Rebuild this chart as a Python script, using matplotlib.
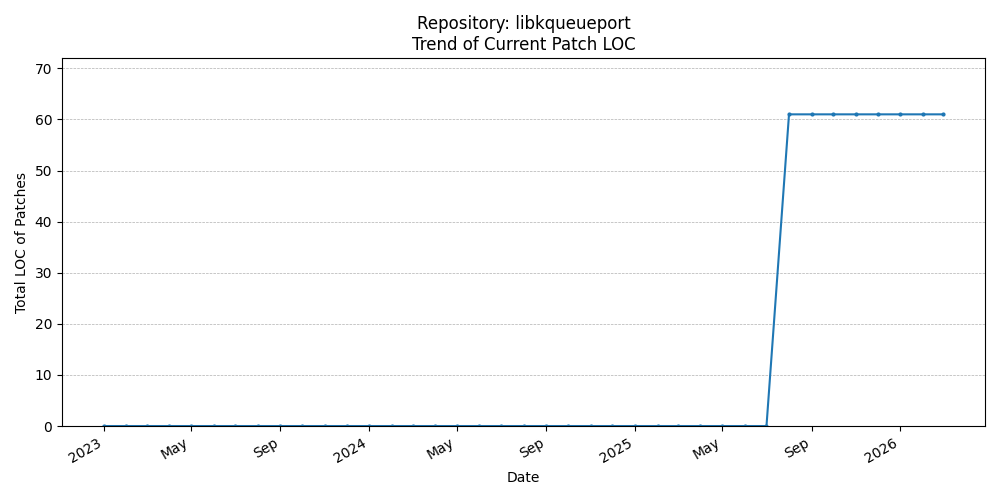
import matplotlib
matplotlib.use("Agg")
import matplotlib.pyplot as plt
import matplotlib.dates as mdates
import pandas as pd

dates = pd.date_range("2023-01-01", "2026-03-01", freq="MS")
n_zero = len(pd.date_range("2023-01-01", "2025-07-01", freq="MS"))
values = [0] * n_zero + [61] * (len(dates) - n_zero)

fig, ax = plt.subplots(figsize=(10, 5), dpi=100)
ax.plot(dates, values, marker="o", markersize=2, color="#1f77b4")
ax.set_title("Repository: libkqueueport\nTrend of Current Patch LOC")
ax.set_xlabel("Date")
ax.set_ylabel("Total LOC of Patches")
ax.set_ylim(0, 72)
ax.grid(axis="y", linestyle="--", linewidth=0.5)
ax.xaxis.set_major_locator(mdates.MonthLocator(bymonth=[1, 5, 9]))
ax.xaxis.set_major_formatter(mdates.ConciseDateFormatter(ax.xaxis.get_major_locator()))
fig.autofmt_xdate()
fig.tight_layout()
fig.savefig("out.png")
